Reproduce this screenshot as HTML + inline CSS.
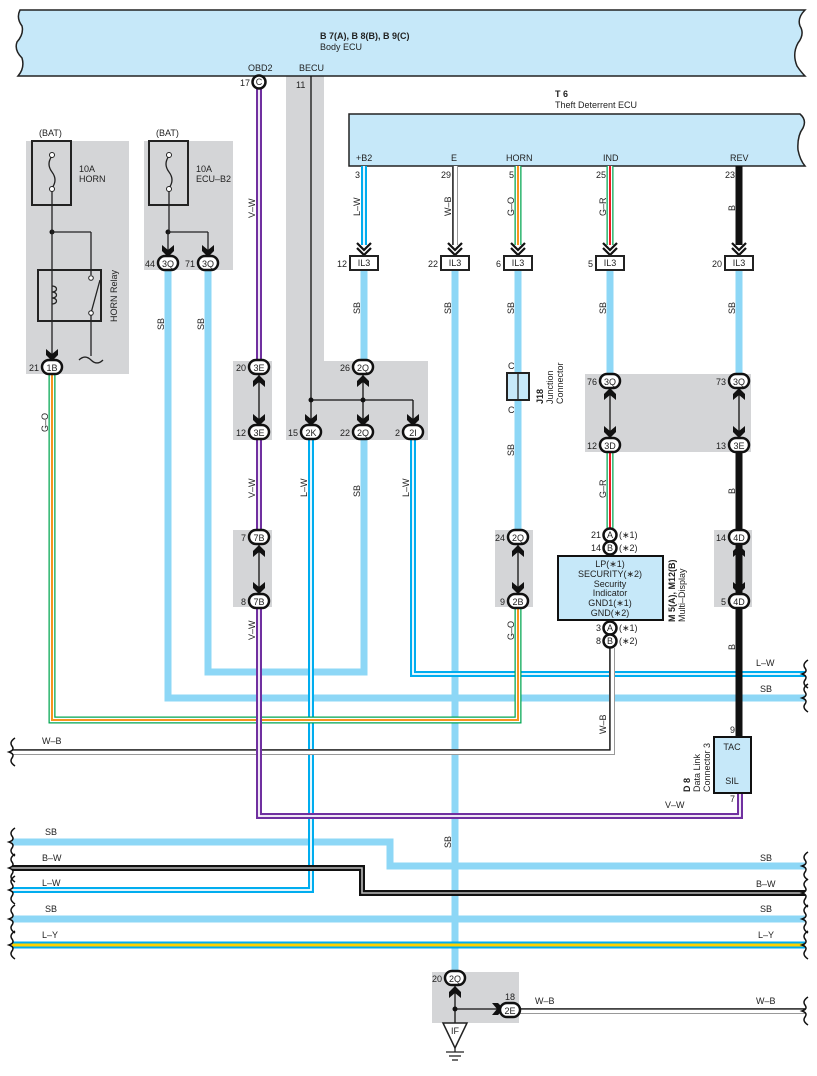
<!DOCTYPE html>
<html><head><meta charset="utf-8"><style>
html,body{margin:0;padding:0;background:#fff;}
svg{display:block;font-family:"Liberation Sans",sans-serif;}
text{fill:#222;font-size:9px;}
</style></head><body>
<svg width="817" height="1076" viewBox="0 0 817 1076" xmlns="http://www.w3.org/2000/svg">
<defs>
<path id="ad" d="M-6,-8 L0,-3 L6,-8 L6,-2 L0,4 L-6,-2Z" fill="#111"/>
<path id="au" d="M-6,8 L0,3 L6,8 L6,2 L0,-4 L-6,2Z" fill="#111"/>
<path id="ar" d="M-8,-6 L-3,0 L-8,6 L-2,6 L4,0 L-2,-6Z" fill="#111"/>
<g id="dd"><path d="M-7,-11 L0,-4 L7,-11 M-7,-6 L0,1 L7,-6" stroke="#111" stroke-width="2.2" fill="none"/></g>
<path id="wl" d="M3,-14 q-6,4 -3,8 q3,4 -3,6 q6,2 3,6 q-3,4 3,8" stroke="#111" stroke-width="1.5" fill="none"/>
</defs>

<!-- gray boxes -->
<g fill="#d4d5d7">
<rect x="26" y="141" width="103" height="233"/>
<rect x="144" y="141" width="89" height="129"/>
<rect x="286" y="76" width="38" height="290"/>
<rect x="286" y="361" width="142" height="79"/>
<rect x="233" y="361" width="39" height="79"/>
<rect x="233" y="530" width="39" height="77"/>
<rect x="495" y="530" width="38" height="77"/>
<rect x="585" y="374" width="166" height="78"/>
<rect x="714" y="530" width="38" height="77"/>
<rect x="432" y="972" width="87" height="51"/>
</g>

<!-- Body ECU -->
<path d="M20,10 H805 Q797,18 800,26 Q805,34 798,43 Q792,54 797,66 Q801,72 805,76 H18 Q25,68 22,58 Q14,50 17,42 Q24,34 22,26 Q16,18 20,10Z" fill="#c6e8f9" stroke="#222" stroke-width="1.5"/>
<text x="320" y="39" font-weight="bold">B 7(A), B 8(B), B 9(C)</text>
<text x="320" y="50">Body ECU</text>
<text x="248" y="71">OBD2</text>
<text x="299" y="71">BECU</text>
<text x="296" y="88">11</text>

<!-- Theft deterrent ECU -->
<text x="555" y="97" font-weight="bold">T 6</text>
<text x="555" y="108">Theft Deterrent ECU</text>
<path d="M349,114 H800 Q807,120 803,128 Q797,136 798,150 Q800,160 805,166 H349Z" fill="#c6e8f9" stroke="#222" stroke-width="1.5"/>
<text x="356" y="161">+B2</text>
<text x="451" y="161">E</text>
<text x="506" y="161">HORN</text>
<text x="603" y="161">IND</text>
<text x="730" y="161">REV</text>

<!-- wires: SB light blue -->
<g stroke="#8dd7f6" stroke-width="7" fill="none" stroke-linejoin="miter">
<polyline points="168,270 168,698 805,698"/>
<polyline points="208,270 208,672 364,672 364,439"/>
<polyline points="364,270 364,362"/>
<polyline points="455,270 455,972"/>
<polyline points="518,270 518,373"/>
<polyline points="518,400 518,530"/>
<polyline points="610,270 610,374"/>
<polyline points="739,270 739,374"/>
<polyline points="12,842 390,842 390,866 805,866"/>
<polyline points="12,919 805,919"/>
</g>

<!-- L-W -->
<g fill="none">
<polyline points="311,439 311,890 12,890" stroke="#00adef" stroke-width="6"/>
<polyline points="311,439 311,890 12,890" stroke="#fff" stroke-width="1.8"/>
<polyline points="413,439 413,674 805,674" stroke="#00adef" stroke-width="6"/>
<polyline points="413,439 413,674 805,674" stroke="#fff" stroke-width="1.8"/>
<polyline points="364,166 364,245" stroke="#00adef" stroke-width="6"/>
<polyline points="364,166 364,245" stroke="#fff" stroke-width="1.8"/>
</g>

<!-- B-W -->
<g fill="none">
<polyline points="12,868 362,868 362,893 805,893" stroke="#111" stroke-width="6"/>
<polyline points="12,868 362,868 362,893 805,893" stroke="#bbb" stroke-width="1.6"/>
</g>

<!-- L-Y -->
<polyline points="12,945 805,945" stroke="#00adef" stroke-width="7" fill="none"/>
<polyline points="12,945 805,945" stroke="#ffd200" stroke-width="3" fill="none"/>

<!-- G-O -->
<g fill="none">
<polyline points="518,607 518,720 52,720 52,374" stroke="#00a650" stroke-width="7"/>
<polyline points="518,607 518,720 52,720 52,374" stroke="#fff" stroke-width="4.5"/>
<polyline points="518,607 518,720 52,720 52,374" stroke="#f7941d" stroke-width="2"/>
<polyline points="518,166 518,245" stroke="#00a650" stroke-width="7"/>
<polyline points="518,166 518,245" stroke="#fff" stroke-width="4.5"/>
<polyline points="518,166 518,245" stroke="#f7941d" stroke-width="2"/>
</g>

<!-- G-R -->
<g fill="none">
<polyline points="610,452 610,528" stroke="#00a650" stroke-width="7"/>
<polyline points="610,452 610,528" stroke="#fff" stroke-width="4.5"/>
<polyline points="610,452 610,528" stroke="#ed1c24" stroke-width="2"/>
<polyline points="610,166 610,245" stroke="#00a650" stroke-width="7"/>
<polyline points="610,166 610,245" stroke="#fff" stroke-width="4.5"/>
<polyline points="610,166 610,245" stroke="#ed1c24" stroke-width="2"/>
</g>

<!-- W-B -->
<g fill="none">
<polyline points="12,752 612,752 612,648" stroke="#999" stroke-width="6"/>
<polyline points="12,752 612,752 612,648" stroke="#fff" stroke-width="4"/>
<polyline points="12,750 610,750 610,648" stroke="#111" stroke-width="1.3"/>
<polyline points="455,166 455,245" stroke="#999" stroke-width="6"/>
<polyline points="455,166 455,245" stroke="#fff" stroke-width="4"/>
<polyline points="453,166 453,245" stroke="#111" stroke-width="1.3"/>
<polyline points="517,1011 805,1011" stroke="#999" stroke-width="6"/>
<polyline points="517,1011 805,1011" stroke="#fff" stroke-width="4"/>
<polyline points="517,1009 805,1009" stroke="#111" stroke-width="1.3"/>
</g>

<!-- B (black) -->
<polyline points="739,166 739,245" stroke="#111" stroke-width="7" fill="none"/>
<polyline points="739,452 739,737" stroke="#111" stroke-width="7" fill="none"/>

<!-- V-W purple -->
<g fill="none">
<polyline points="259,89 259,361" stroke="#7030a0" stroke-width="6"/>
<polyline points="259,89 259,361" stroke="#fff" stroke-width="1.8"/>
<polyline points="259,439 259,530" stroke="#7030a0" stroke-width="6"/>
<polyline points="259,439 259,530" stroke="#fff" stroke-width="1.8"/>
<polyline points="259,607 259,816 740,816 740,793" stroke="#7030a0" stroke-width="6"/>
<polyline points="259,607 259,816 740,816 740,793" stroke="#fff" stroke-width="1.8"/>
</g>

<!-- wavy ends -->
<g>
<use href="#wl" x="12" y="752"/>
<use href="#wl" x="12" y="842"/><use href="#wl" x="12" y="868"/><use href="#wl" x="12" y="890"/>
<use href="#wl" x="12" y="919"/><use href="#wl" x="12" y="945"/>
<use href="#wl" x="805" y="674"/><use href="#wl" x="805" y="698"/>
<use href="#wl" x="805" y="866"/><use href="#wl" x="805" y="893"/><use href="#wl" x="805" y="919"/><use href="#wl" x="805" y="945"/>
<use href="#wl" x="805" y="1011"/>
</g>

<!-- BECU line & junctions -->
<g stroke="#111" stroke-width="1.3" fill="none">
<line x1="311" y1="76" x2="311" y2="426"/>
<line x1="311" y1="400" x2="413" y2="400"/>
<line x1="413" y1="400" x2="413" y2="426"/>
<line x1="363" y1="375" x2="363" y2="426"/>
<line x1="259" y1="375" x2="259" y2="426"/>
<line x1="259" y1="545" x2="259" y2="594"/>
<line x1="518" y1="545" x2="518" y2="594"/>
<line x1="610" y1="388" x2="610" y2="438"/>
<line x1="739" y1="388" x2="739" y2="438"/>
<line x1="739" y1="545" x2="739" y2="594"/>
<line x1="455" y1="986" x2="455" y2="1023"/>
<line x1="455" y1="1009" x2="500" y2="1009"/>
</g>
<g fill="#111"><circle cx="311" cy="400" r="2.5"/><circle cx="363" cy="400" r="2.5"/><circle cx="455" cy="1009" r="2.5"/>
<circle cx="52" cy="232" r="2.5"/><circle cx="168" cy="232" r="2.5"/></g>

<!-- fuses & relay -->
<g stroke="#222" fill="none">
<rect x="32" y="141" width="39" height="64" stroke-width="2"/>
<rect x="149" y="141" width="39" height="64" stroke-width="2"/>
<path d="M52,156 q-6,8 0,16 q6,8 0,16" stroke-width="1.3"/>
<path d="M169,156 q-6,8 0,16 q6,8 0,16" stroke-width="1.3"/>
<circle cx="52" cy="155" r="2.5" fill="#fff"/><circle cx="52" cy="189" r="2.5" fill="#fff"/>
<circle cx="169" cy="155" r="2.5" fill="#fff"/><circle cx="169" cy="189" r="2.5" fill="#fff"/>
<g stroke-width="1.3">
<line x1="52" y1="191" x2="52" y2="355"/>
<line x1="52" y1="232" x2="91" y2="232"/><line x1="91" y1="232" x2="91" y2="275"/>
<line x1="91" y1="313" x2="91" y2="356"/>
<path d="M79,360 q6,-6 12,0 q6,6 12,0"/>
<line x1="169" y1="191" x2="169" y2="232"/><line x1="168" y1="232" x2="208" y2="232"/>
<line x1="168" y1="232" x2="168" y2="252"/><line x1="208" y1="232" x2="208" y2="252"/>
<line x1="91" y1="313" x2="100" y2="280"/>
</g>
<rect x="38" y="270" width="63" height="51" stroke-width="2"/>
<path d="M52,286 c6,0 6,6 0,6 c6,0 6,6 0,6 c6,0 6,6 0,6" stroke-width="1.3"/>
<circle cx="91" cy="278" r="2.3" fill="#fff"/><circle cx="91" cy="313" r="2.3" fill="#fff"/>
</g>
<text x="39" y="136">(BAT)</text><text x="156" y="136">(BAT)</text>
<text x="79" y="172">10A</text><text x="79" y="182">HORN</text>
<text x="196" y="172">10A</text><text x="196" y="182">ECU–B2</text>
<text transform="translate(117,322) rotate(-90)">HORN Relay</text>

<!-- arrowheads -->
<use href="#ad" x="52" y="357"/>
<use href="#ad" x="168" y="253"/><use href="#ad" x="208" y="253"/>
<use href="#au" x="259" y="379"/><use href="#ad" x="259" y="422"/>
<use href="#au" x="259" y="549"/><use href="#ad" x="259" y="590"/>
<use href="#au" x="363" y="379"/><use href="#ad" x="311" y="422"/><use href="#ad" x="363" y="422"/><use href="#ad" x="413" y="422"/>
<use href="#au" x="518" y="549"/><use href="#ad" x="518" y="590"/>
<use href="#au" x="610" y="392"/><use href="#ad" x="610" y="434"/>
<use href="#au" x="739" y="392"/><use href="#ad" x="739" y="434"/>
<use href="#au" x="739" y="549"/><use href="#ad" x="739" y="590"/>
<use href="#au" x="455" y="990"/><use href="#ar" x="500" y="1009"/>
<use href="#dd" x="364" y="254"/><use href="#dd" x="455" y="254"/><use href="#dd" x="518" y="254"/><use href="#dd" x="610" y="254"/><use href="#dd" x="739" y="254"/>

<!-- IL3 boxes -->
<g stroke="#222" stroke-width="2" fill="#fff">
<rect x="350" y="256" width="28" height="14"/><rect x="441" y="256" width="28" height="14"/>
<rect x="504" y="256" width="28" height="14"/><rect x="596" y="256" width="28" height="14"/><rect x="725" y="256" width="28" height="14"/>
</g>
<g text-anchor="middle">
<text x="364" y="266">IL3</text><text x="455" y="266">IL3</text><text x="518" y="266">IL3</text><text x="610" y="266">IL3</text><text x="739" y="266">IL3</text>
</g>
<g text-anchor="end">
<text x="347" y="267">12</text><text x="438" y="267">22</text><text x="501" y="267">6</text><text x="593" y="267">5</text><text x="722" y="267">20</text>
<text x="360" y="178">3</text><text x="451" y="178">29</text><text x="514" y="178">5</text><text x="606" y="178">25</text><text x="735" y="178">23</text>
</g>

<!-- oval connectors -->
<g stroke="#111" stroke-width="2.5" fill="#fff">
<rect x="42" y="360" width="20" height="14" rx="7"/>
<rect x="158" y="256" width="20" height="14" rx="7"/><rect x="198" y="256" width="20" height="14" rx="7"/>
<rect x="249" y="360" width="20" height="14" rx="7"/><rect x="249" y="425" width="20" height="14" rx="7"/>
<rect x="249" y="530" width="20" height="14" rx="7"/><rect x="249" y="594" width="20" height="14" rx="7"/>
<rect x="301" y="425" width="20" height="14" rx="7"/>
<rect x="353" y="360" width="20" height="14" rx="7"/><rect x="353" y="425" width="20" height="14" rx="7"/>
<rect x="403" y="425" width="20" height="14" rx="7"/>
<rect x="508" y="530" width="20" height="14" rx="7"/><rect x="508" y="594" width="20" height="14" rx="7"/>
<rect x="600" y="374" width="20" height="14" rx="7"/><rect x="600" y="438" width="20" height="14" rx="7"/>
<rect x="729" y="374" width="20" height="14" rx="7"/><rect x="729" y="438" width="20" height="14" rx="7"/>
<rect x="729" y="530" width="20" height="14" rx="7"/><rect x="729" y="594" width="20" height="14" rx="7"/>
<rect x="445" y="971" width="20" height="14" rx="7"/><rect x="500" y="1003" width="20" height="14" rx="7"/>
<circle cx="259" cy="82" r="6.5"/>
<circle cx="610" cy="535" r="6.5"/><circle cx="610" cy="548" r="6.5"/>
<circle cx="610" cy="628" r="6.5"/><circle cx="610" cy="641" r="6.5"/>
</g>
<g text-anchor="middle" font-size="9">
<text x="52" y="371">1B</text><text x="168" y="267">3Q</text><text x="208" y="267">3Q</text>
<text x="259" y="371">3E</text><text x="259" y="436">3E</text><text x="259" y="541">7B</text><text x="259" y="605">7B</text>
<text x="311" y="436">2K</text><text x="363" y="371">2Q</text><text x="363" y="436">2Q</text><text x="413" y="436">2I</text>
<text x="518" y="541">2Q</text><text x="518" y="605">2B</text>
<text x="610" y="385">3Q</text><text x="610" y="449">3D</text>
<text x="739" y="385">3Q</text><text x="739" y="449">3E</text><text x="739" y="541">4D</text><text x="739" y="605">4D</text>
<text x="455" y="982">2Q</text><text x="510" y="1014">2E</text>
<text x="259" y="85">C</text>
<text x="610" y="538">A</text><text x="610" y="551">B</text><text x="610" y="631">A</text><text x="610" y="644">B</text>
</g>
<g text-anchor="end">
<text x="39" y="371">21</text><text x="155" y="267">44</text><text x="195" y="267">71</text>
<text x="250" y="86">17</text>
<text x="246" y="371">20</text><text x="246" y="436">12</text><text x="246" y="541">7</text><text x="246" y="605">8</text>
<text x="298" y="436">15</text><text x="350" y="371">26</text><text x="350" y="436">22</text><text x="400" y="436">2</text>
<text x="505" y="541">24</text><text x="505" y="605">9</text>
<text x="597" y="385">76</text><text x="597" y="449">12</text>
<text x="726" y="385">73</text><text x="726" y="449">13</text><text x="726" y="541">14</text><text x="726" y="605">5</text>
<text x="442" y="982">20</text>
<text x="601" y="538">21</text><text x="601" y="551">14</text><text x="601" y="631">3</text><text x="601" y="644">8</text>
<text x="735" y="733">9</text><text x="735" y="802">7</text>
</g>
<text x="505" y="1000">18</text>
<text x="619" y="538">(∗1)</text><text x="619" y="551">(∗2)</text><text x="619" y="631">(∗1)</text><text x="619" y="644">(∗2)</text>

<!-- J18 -->
<rect x="507" y="373" width="22" height="27" fill="#c6e8f9" stroke="#222" stroke-width="2"/>
<line x1="518" y1="373" x2="518" y2="400" stroke="#222" stroke-width="1.3"/>
<text x="508" y="369">C</text><text x="508" y="413">C</text>
<text transform="translate(543,404) rotate(-90)" font-weight="bold">J18</text>
<text transform="translate(553,404) rotate(-90)">Junction</text>
<text transform="translate(563,404) rotate(-90)">Connector</text>

<!-- Multi-display -->
<rect x="558" y="556" width="105" height="64" fill="#c6e8f9" stroke="#111" stroke-width="2"/>
<g text-anchor="middle" font-size="9.5">
<text x="610" y="567">LP(∗1)</text><text x="610" y="577">SECURITY(∗2)</text><text x="610" y="587">Security</text>
<text x="610" y="596">Indicator</text><text x="610" y="606">GND1(∗1)</text><text x="610" y="616">GND(∗2)</text>
</g>
<text transform="translate(675,622) rotate(-90)" font-weight="bold">M 5(A), M12(B)</text>
<text transform="translate(685,622) rotate(-90)">Multi–Display</text>

<!-- D8 -->
<rect x="714" y="737" width="37" height="56" fill="#c6e8f9" stroke="#111" stroke-width="2"/>
<text x="732" y="750" text-anchor="middle">TAC</text><text x="732" y="784" text-anchor="middle">SIL</text>
<text transform="translate(690,792) rotate(-90)" font-weight="bold">D 8</text>
<text transform="translate(700,792) rotate(-90)">Data Link</text>
<text transform="translate(710,792) rotate(-90)">Connector 3</text>

<!-- IF ground -->
<path d="M443,1023 H467 L455,1048Z" fill="#fff" stroke="#222" stroke-width="1.5"/>
<text x="455" y="1034" text-anchor="middle">IF</text>
<g stroke="#222" stroke-width="1.3"><line x1="455" y1="1048" x2="455" y2="1052"/><line x1="446" y1="1052" x2="464" y2="1052"/><line x1="449" y1="1056" x2="461" y2="1056"/><line x1="452" y1="1060" x2="458" y2="1060"/></g>

<!-- rotated wire labels -->
<g>
<text transform="translate(255,218) rotate(-90)">V–W</text>
<text transform="translate(255,498) rotate(-90)">V–W</text>
<text transform="translate(255,640) rotate(-90)">V–W</text>
<text transform="translate(360,216) rotate(-90)">L–W</text>
<text transform="translate(451,216) rotate(-90)">W–B</text>
<text transform="translate(514,216) rotate(-90)">G–O</text>
<text transform="translate(606,216) rotate(-90)">G–R</text>
<text transform="translate(735,211) rotate(-90)">B</text>
<text transform="translate(164,330) rotate(-90)">SB</text>
<text transform="translate(204,330) rotate(-90)">SB</text>
<text transform="translate(360,314) rotate(-90)">SB</text>
<text transform="translate(451,314) rotate(-90)">SB</text>
<text transform="translate(514,314) rotate(-90)">SB</text>
<text transform="translate(606,314) rotate(-90)">SB</text>
<text transform="translate(735,314) rotate(-90)">SB</text>
<text transform="translate(48,432) rotate(-90)">G–O</text>
<text transform="translate(307,497) rotate(-90)">L–W</text>
<text transform="translate(360,497) rotate(-90)">SB</text>
<text transform="translate(409,497) rotate(-90)">L–W</text>
<text transform="translate(514,456) rotate(-90)">SB</text>
<text transform="translate(606,498) rotate(-90)">G–R</text>
<text transform="translate(735,494) rotate(-90)">B</text>
<text transform="translate(514,640) rotate(-90)">G–O</text>
<text transform="translate(606,734) rotate(-90)">W–B</text>
<text transform="translate(735,650) rotate(-90)">B</text>
<text transform="translate(451,848) rotate(-90)">SB</text>
</g>
<text x="756" y="666">L–W</text><text x="760" y="692">SB</text>
<text x="42" y="744">W–B</text><text x="665" y="808">V–W</text>
<text x="45" y="835">SB</text><text x="42" y="861">B–W</text><text x="42" y="886">L–W</text><text x="45" y="912">SB</text><text x="42" y="938">L–Y</text>
<text x="760" y="861">SB</text><text x="756" y="887">B–W</text><text x="760" y="912">SB</text><text x="758" y="938">L–Y</text>
<text x="535" y="1004">W–B</text><text x="756" y="1004">W–B</text>
</svg>
</body></html>
